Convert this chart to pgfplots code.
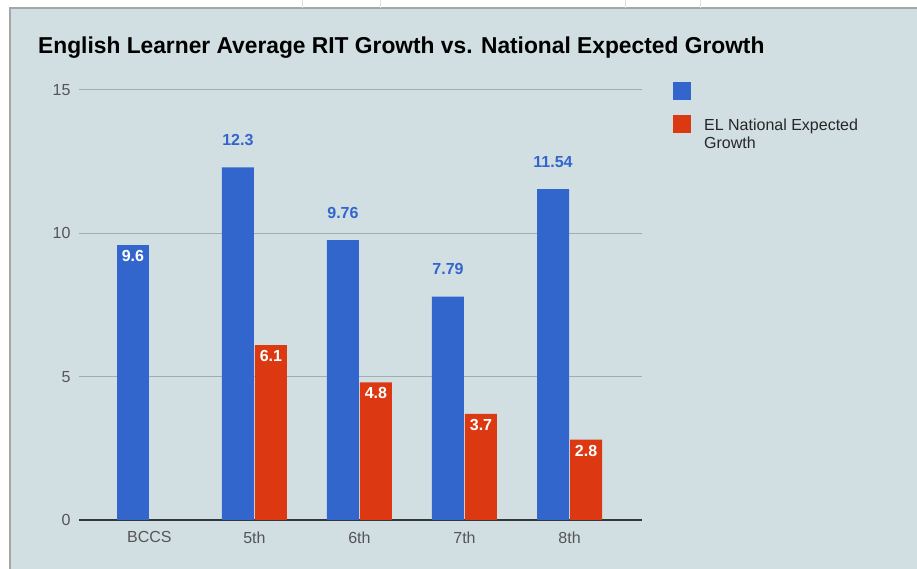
\documentclass[border=0pt]{standalone}
\usepackage{fontspec}
\setmainfont{Liberation Sans}
\newfontfamily\titlefont[FakeStretch=0.99]{Liberation Sans}
\usepackage{pgfplots}
\pgfplotsset{compat=1.18}
\definecolor{bg}{RGB}{209,223,227}
\definecolor{cblue}{RGB}{51,102,204}
\definecolor{cred}{RGB}{220,57,18}
\definecolor{gridc}{RGB}{160,174,178}
\definecolor{tickc}{RGB}{85,85,85}
\definecolor{basec}{RGB}{50,55,58}
\begin{document}
\begin{tikzpicture}[x=1pt,y=1pt]
\path[use as bounding box] (0,0) rectangle (917,569);
\fill[bg] (10,0) rectangle (917,561);
\draw[black!35, line width=1.2pt] (10,0) -- (10,561) -- (917,561);
\foreach \xx in {302,380,625,700}{\draw[black!12, line width=0.6pt] (\xx,561) -- (\xx,569);}
\node[anchor=west, inner sep=0, font=\titlefont\bfseries\fontsize{23}{27}\selectfont] at (38,521) {English Learner Average RIT Growth vs. National Expected Growth};
\begin{axis}[
  at={(79pt,49pt)}, anchor=south west,
  scale only axis, width=563pt, height=430pt,
  xmin=-0.67, xmax=4.69, ymin=0, ymax=15,
  /pgf/number format/assume math mode=true,
  axis line style={draw=none},
  major tick length=0pt,
  ytick={5,10,15},
  ymajorgrids, grid style={gridc, line width=1pt},
  extra y ticks={0}, extra y tick style={grid style={basec, line width=1.5pt}},
  yticklabel style={font=\fontsize{16}{19}\selectfont, text=tickc, xshift=-5pt},
  xtick={0,1,2,3,4},
  xticklabels={BCCS,5th,6th,7th,8th},
  xticklabel style={font=\fontsize{16}{19}\selectfont, text=tickc, yshift=-8pt},
  clip=false,
  legend style={at={(1.055,1.019)}, anchor=north west, draw=none, fill=none,
    inner sep=0pt, font=\fontsize{16}{18}\selectfont, text=black!85,
    row sep=15pt, column sep=13pt, nodes={inner sep=0pt, outer sep=0pt}},
  legend cell align=left,
  legend image code/.code={\fill[#1] (0pt,-4pt) rectangle (18pt,14pt);},
]
% blue BCCS (label inside)
\addplot[ybar, bar width=32pt, bar shift=-16.5pt, fill=cblue, draw=none,
  nodes near coords,
  every node near coord/.append style={anchor=base, inner sep=0pt, yshift=-16.5pt, xshift=-16.5pt,
    text=white, font=\bfseries\fontsize{16}{19}\selectfont}]
  coordinates {(0,9.6)};
\addlegendentry{}
% red national expected
\addplot[ybar, bar width=32pt, bar shift=16.5pt, fill=cred, draw=none,
  nodes near coords,
  every node near coord/.append style={anchor=base, inner sep=0pt, yshift=-16.5pt, xshift=16.5pt,
    text=white, font=\bfseries\fontsize{16}{19}\selectfont}]
  coordinates {(1,6.1) (2,4.8) (3,3.7) (4,2.8)};
\addlegendentry{\raisebox{7.5pt}{\begin{tabular}[t]{@{}l@{}}EL National Expected\\Growth\end{tabular}}}
% blue grades (label above)
\addplot[ybar, bar width=32pt, bar shift=-16.5pt, fill=cblue, draw=none, forget plot,
  nodes near coords,
  every node near coord/.append style={anchor=base, inner sep=0pt, yshift=22pt, xshift=-16.5pt,
    text=cblue, font=\bfseries\fontsize{16}{19}\selectfont}]
  coordinates {(1,12.3) (2,9.76) (3,7.79) (4,11.54)};
\end{axis}
\end{tikzpicture}
\end{document}
